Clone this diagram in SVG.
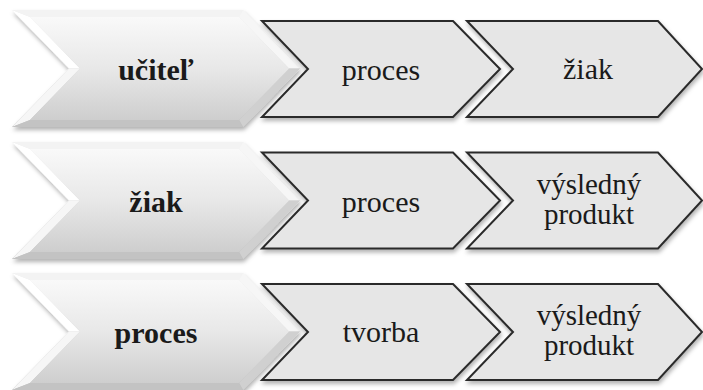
<svg xmlns="http://www.w3.org/2000/svg" xmlns:xlink="http://www.w3.org/1999/xlink" width="703" height="390" viewBox="0 0 703 390">
<style>
text{font-family:"Liberation Serif","Times New Roman",serif;font-size:30px;fill:#1a1a1a;text-anchor:middle}
.b{font-weight:bold}
.t{font-size:29px}
.sec{fill:#e6e6e6;stroke:#2b2b2b;stroke-width:2;stroke-linejoin:miter;filter:url(#sh)}
</style>
<defs>
<filter id="sh" x="-10%" y="-10%" width="120%" height="130%">
<feDropShadow dx="1" dy="3" stdDeviation="2" flood-color="#000" flood-opacity="0.3"/>
</filter>
<linearGradient id="outerG" x1="0" y1="0" x2="0" y2="1">
<stop offset="0" stop-color="#f0f0f0"/><stop offset="1" stop-color="#bcbcbc"/>
</linearGradient>
<linearGradient id="innerG" x1="0" y1="0" x2="0" y2="1">
<stop offset="0" stop-color="#f9f9f9"/><stop offset="0.5" stop-color="#e8e8e8"/><stop offset="1" stop-color="#cecece"/>
</linearGradient>
<g id="main">
<polygon points="12,10 243,10 300,68.5 243,127 12,127 69,68.5" fill="url(#outerG)" filter="url(#sh)"/>
<polygon points="12,10 69,68.5 80,68.5 30,17" fill="#ffffff"/>
<polygon points="12,127 69,68.5 80,68.5 30,120" fill="#f6f6f6"/>
<polygon points="12,10 243,10 239,17 30,17" fill="#f3f3f3"/>
<polygon points="243,10 300,68.5 289,68.5 239,17" fill="#f6f6f6"/>
<polygon points="300,68.5 243,127 239,120 289,68.5" fill="#d0d0d0"/>
<polygon points="12,127 243,127 239,120 30,120" fill="#c3c3c3"/>
<polygon points="30,17 239,17 289,68.5 239,120 30,120 80,68.5" fill="url(#innerG)"/>
</g>
<polygon id="c2" class="sec" points="262,21 453,21 500,69 453,117 262,117 308,69"/>
<polygon id="c3" class="sec" points="467,21 658,21 702,69 658,117 467,117 513,69"/>
</defs>

<g id="row1-ucitel"><use xlink:href="#main"/><text class="b" x="156" y="80">učiteľ</text></g>
<g id="row1-proces"><use xlink:href="#c2"/><text x="381" y="80">proces</text></g>
<g id="row1-ziak"><use xlink:href="#c3"/><text x="588" y="79">žiak</text></g>

<g id="row2-ziak"><use xlink:href="#main" transform="translate(0,132)"/><text class="b" x="156" y="212">žiak</text></g>
<g id="row2-proces"><use xlink:href="#c2" transform="translate(0,131.5)"/><text x="381" y="212">proces</text></g>
<g id="row2-produkt"><use xlink:href="#c3" transform="translate(0,131.5)"/><text class="t" x="589" y="194">výsledný</text><text class="t" x="589" y="224">produkt</text></g>

<g id="row3-proces"><use xlink:href="#main" transform="translate(0,263)"/><text class="b" x="156" y="343">proces</text></g>
<g id="row3-tvorba"><use xlink:href="#c2" transform="translate(0,263)"/><text x="381" y="342">tvorba</text></g>
<g id="row3-produkt"><use xlink:href="#c3" transform="translate(0,263)"/><text class="t" x="589" y="325">výsledný</text><text class="t" x="589" y="355">produkt</text></g>
</svg>
